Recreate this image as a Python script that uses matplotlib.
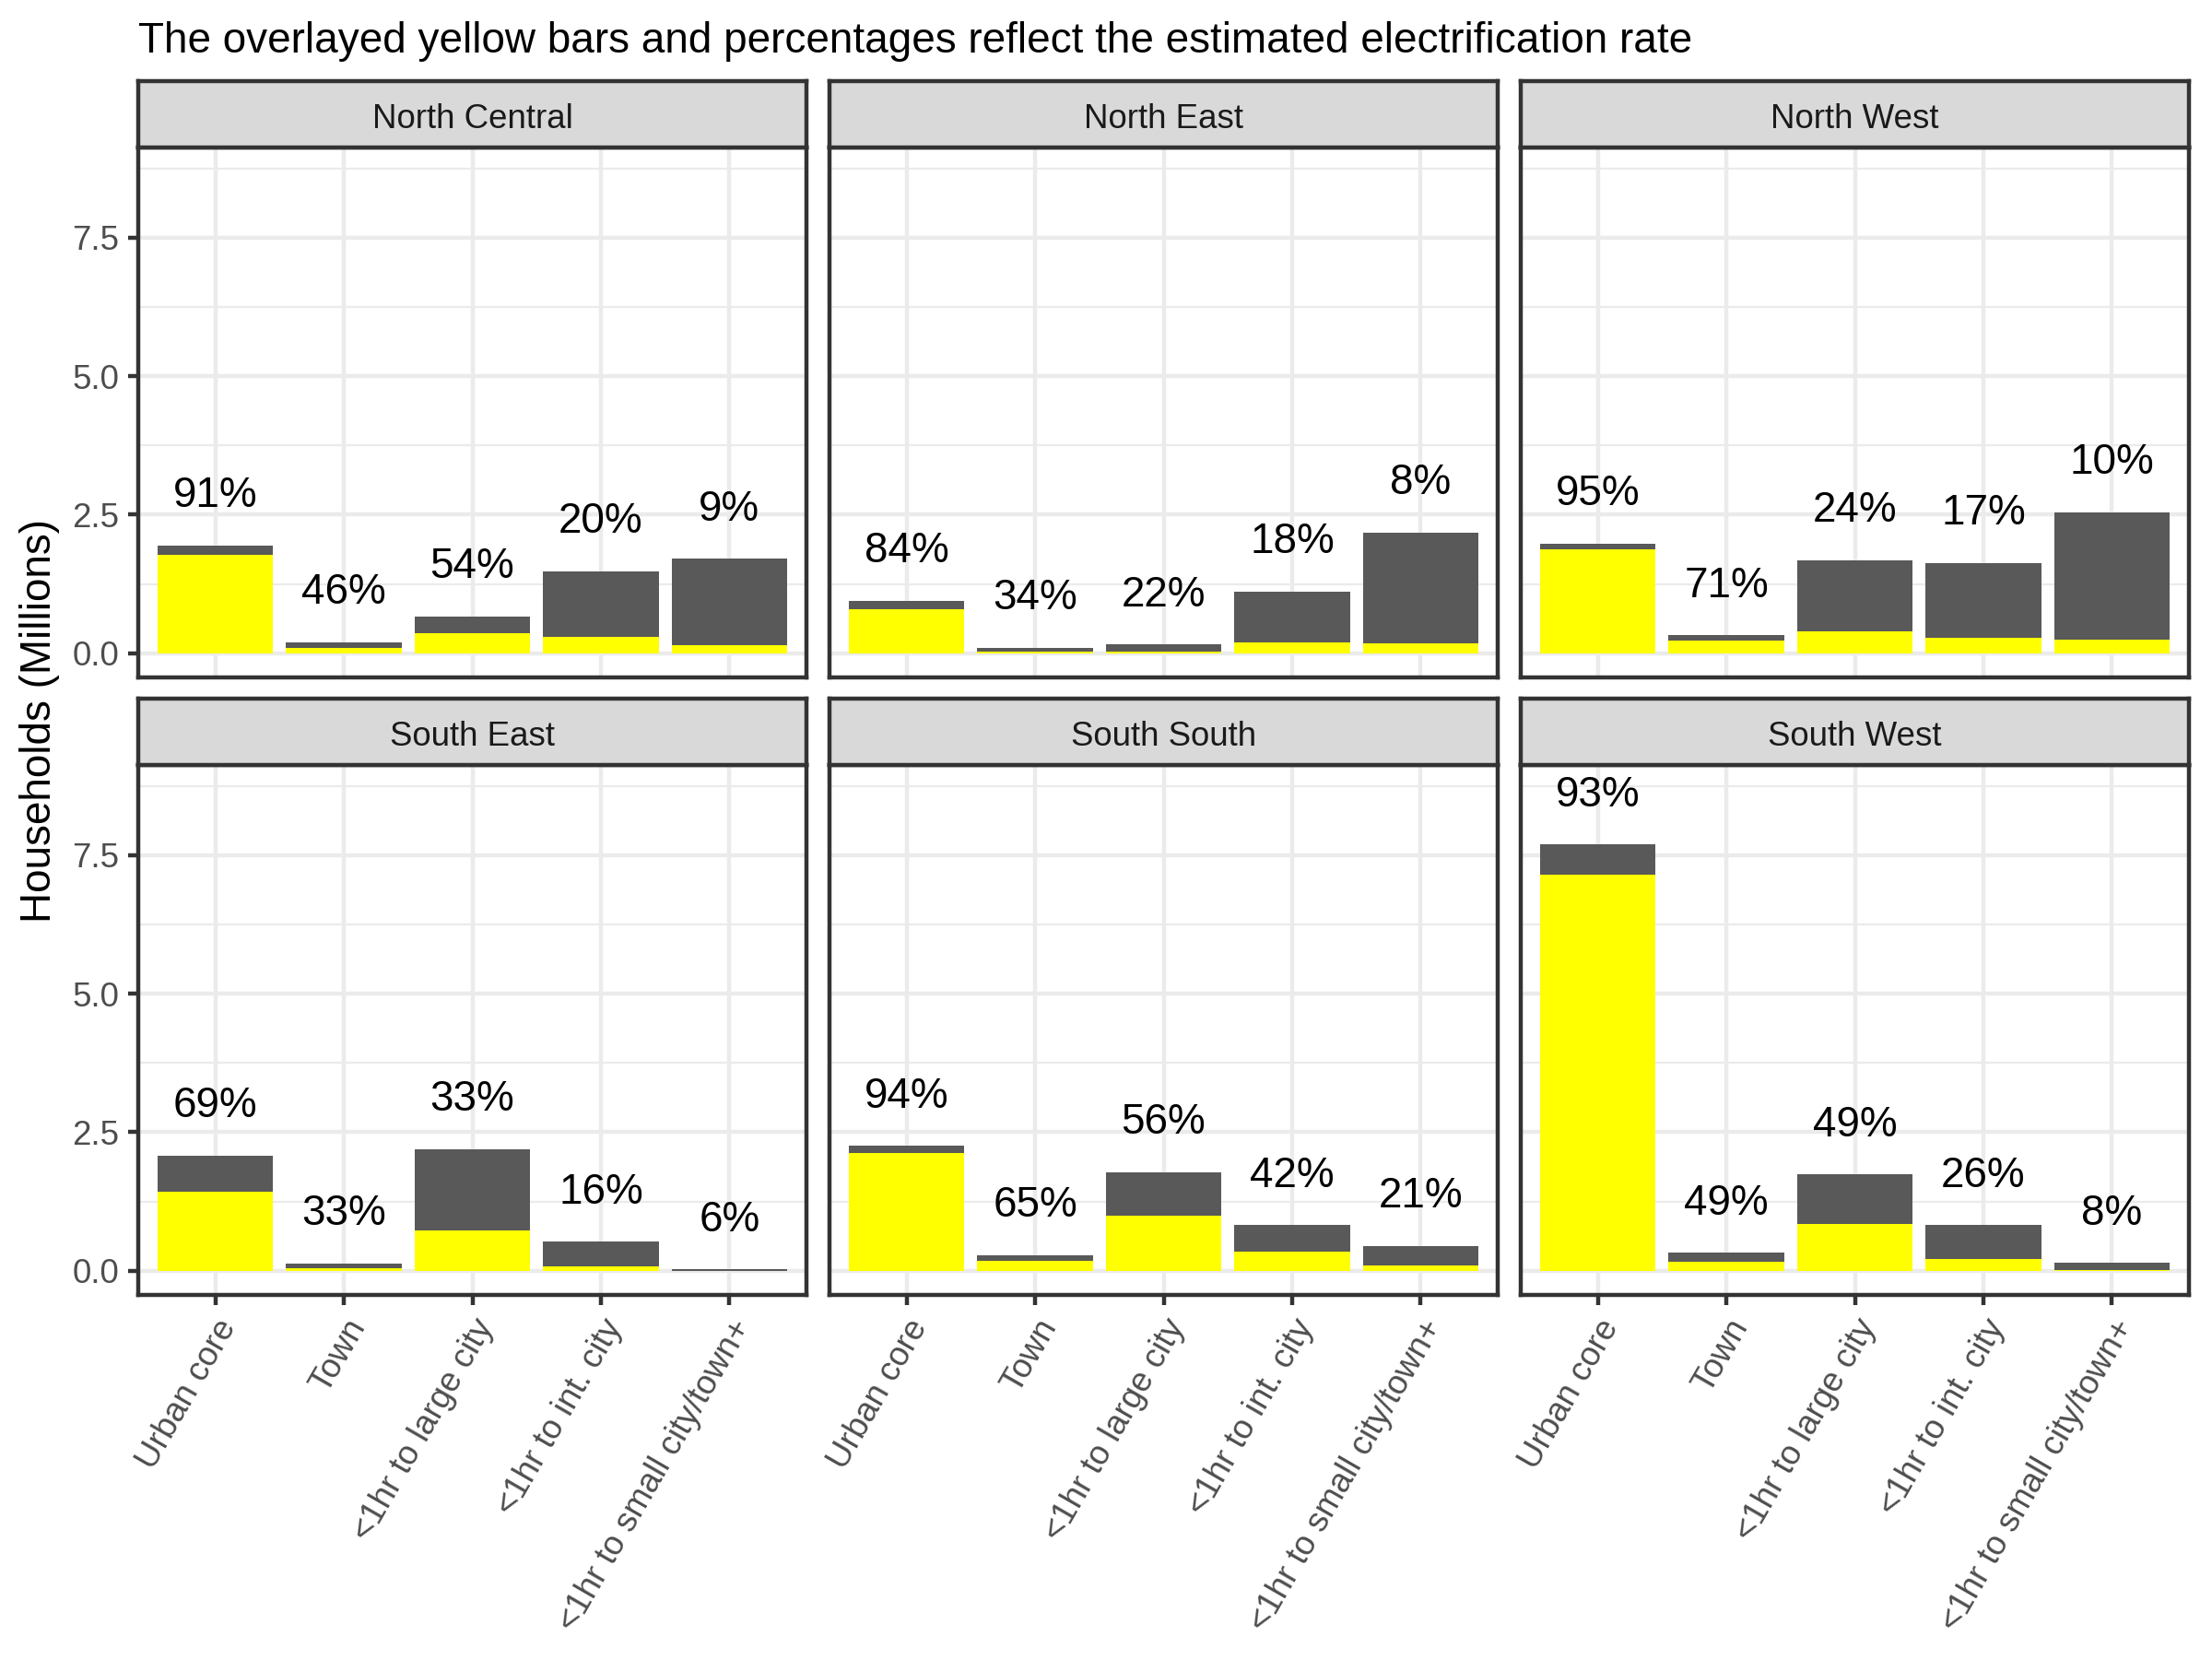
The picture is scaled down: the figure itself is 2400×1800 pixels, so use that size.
import numpy as np
import matplotlib.pyplot as plt
from matplotlib.ticker import MultipleLocator, FormatStrFormatter

plt.rcParams['font.family'] = ['Liberation Sans', 'DejaVu Sans']

# categories and panels
categories = ["Urban core", "Town", "<1hr to large city", "<1hr to int. city",
              "<1hr to small city/town+"]
regions = ["North Central", "North East", "North West",
           "South East", "South South", "South West"]

# households (millions) per category
hh_north_central = [1.95, 0.20, 0.665, 1.48, 1.71]
hh_north_east = [0.95, 0.10, 0.165, 1.115, 2.18]
hh_north_west = [1.98, 0.33, 1.68, 1.63, 2.545]
hh_south_east = [2.08, 0.135, 2.195, 0.53, 0.03]
hh_south_south = [2.26, 0.285, 1.78, 0.83, 0.45]
hh_south_west = [7.69, 0.33, 1.74, 0.825, 0.145]

# estimated electrification rate (%)
pct_north_central = [91, 46, 54, 20, 9]
pct_north_east = [84, 34, 22, 18, 8]
pct_north_west = [95, 71, 24, 17, 10]
pct_south_east = [69, 33, 33, 16, 6]
pct_south_south = [94, 65, 56, 42, 21]
pct_south_west = [93, 49, 49, 26, 8]

households = [hh_north_central, hh_north_east, hh_north_west,
              hh_south_east, hh_south_south, hh_south_west]
rates = [pct_north_central, pct_north_east, pct_north_west,
         pct_south_east, pct_south_south, pct_south_west]

GRID = "#EBEBEB"
BORDER = "#333333"
LW = 1.07

# shared y range, like ggplot: bars plus label positions, 5% expansion
ymax_data = max(max(np.array(h) + 1) for h in households)
ylim = (-0.05 * ymax_data, 1.05 * ymax_data)

fig = plt.figure(figsize=(8, 6), dpi=300)
W, H = 2400, 1800

lefts = [150, 900, 1650]
pw = 725
panel_tops = [160, 830]
ph = 575
strip_h = 72

x = np.arange(len(categories))

for i, region in enumerate(regions):
    row, col = divmod(i, 3)
    l = lefts[col]
    t = panel_tops[row]
    ax = fig.add_axes([l / W, 1 - (t + ph) / H, pw / W, ph / H])

    tot = np.array(households[i])
    elec = tot * np.array(rates[i]) / 100

    ax.bar(x, tot, width=0.9, color="#595959", zorder=2)
    ax.bar(x, elec, width=0.9, color="#FFFF00", zorder=3)
    for xi, ti, p in zip(x, tot, rates[i]):
        ax.annotate(f"{p}%", (xi, ti + 1), xytext=(0, -4.5),
                    textcoords="offset points", ha="center", va="baseline",
                    fontsize=11, color="black", zorder=4)

    ax.set_xlim(-0.6, len(categories) - 0.4)
    ax.set_ylim(*ylim)
    ax.yaxis.set_major_locator(MultipleLocator(2.5))
    ax.yaxis.set_minor_locator(MultipleLocator(1.25))
    ax.yaxis.set_major_formatter(FormatStrFormatter("%.1f"))
    ax.set_xticks(x)
    ax.grid(True, which="major", color=GRID, linewidth=LW, zorder=0)
    ax.grid(True, which="minor", axis="y", color=GRID, linewidth=LW / 2, zorder=0)
    ax.set_axisbelow(True)
    for s in ax.spines.values():
        s.set_color(BORDER)
        s.set_linewidth(LW)
        s.set_zorder(5)

    ax.tick_params(which="minor", length=0)
    ax.tick_params(which="major", length=2.75, width=LW, color=BORDER,
                   labelsize=8.8, labelcolor="#4D4D4D", pad=2.2)

    if col != 0:
        ax.tick_params(axis="y", left=False, labelleft=False)
    if row == 1:
        ax.set_xticklabels(categories, rotation=60, ha="right", va="top",
                           rotation_mode="anchor")
    else:
        ax.tick_params(axis="x", bottom=False, labelbottom=False)

    # facet strip
    sax = fig.add_axes([l / W, 1 - t / H, pw / W, strip_h / H])
    sax.set_xticks([])
    sax.set_yticks([])
    sax.set_facecolor("#D9D9D9")
    for s in sax.spines.values():
        s.set_color(BORDER)
        s.set_linewidth(LW)
    sax.text(0.5, 0.29, region, ha="center", va="baseline", fontsize=8.8,
             color="#1A1A1A", transform=sax.transAxes)

fig.text(150 / W, 1 - 57 / H,
         "The overlayed yellow bars and percentages reflect the estimated electrification rate",
         ha="left", va="baseline", fontsize=11, color="black")
fig.text(43 / W, 1 - 782 / H, "Households (Millions)", rotation=90,
         ha="center", va="center", fontsize=11, color="black")

fig.savefig("out.png", dpi=300, facecolor="white")
